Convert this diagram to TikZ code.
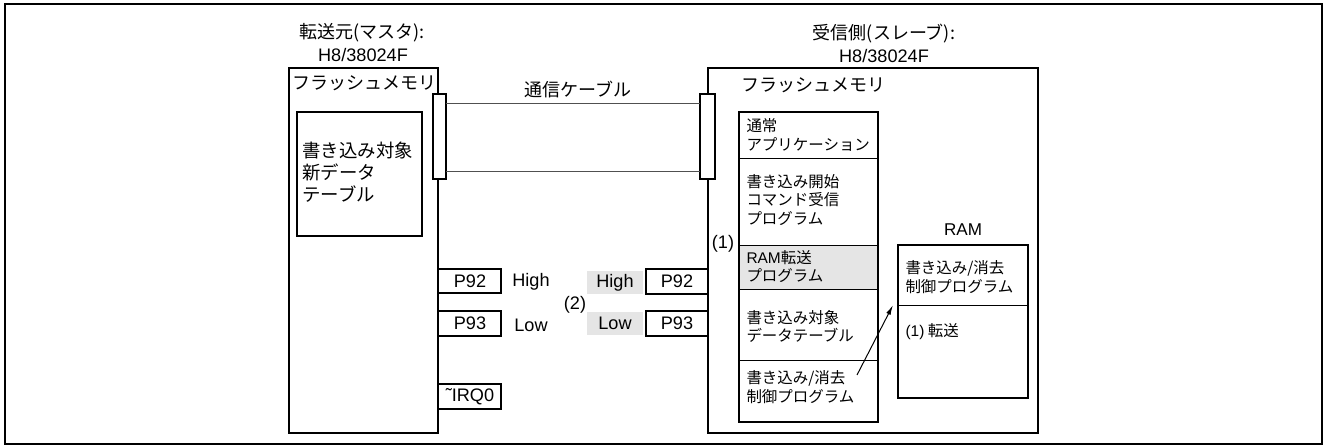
\documentclass[tikz,border=0pt]{standalone}
\usepackage{fontspec}
\setmainfont{Liberation Sans}
\newfontfamily\jp{Noto Sans CJK JP}
\usetikzlibrary{arrows.meta}

\tikzset{every picture/.style={line width=0.75pt}}
\tikzset{
  frm/.style={line width=1.8pt},
  cable/.style={line width=0.7pt,draw={rgb, 255:red, 80; green, 80; blue, 80 }},
  hilite/.style={fill={rgb, 255:red, 229; green, 229; blue, 229 }},
  bigtxt/.style={font=\fontsize{13.6}{16.5}\selectfont,inner sep=0pt},
  bigjp/.style={font=\fontsize{13.5}{16.5}\selectfont\jp,inner sep=0pt,align=left},
  tabjp/.style={font=\fontsize{13.8}{16.5}\selectfont\jp,inner sep=0pt,align=left},
  smjp/.style={font=\fontsize{11.6}{14}\selectfont\jp,inner sep=0pt,align=left}
}

\begin{document}
\begin{tikzpicture}[x=0.75pt,y=0.75pt,yscale=-1,xscale=1]
\useasboundingbox (0,0) rectangle (1324,446);

%Shape: Rectangle [id:frame] 
\draw  [frm] (5,4) rectangle (1322,444) ;

%Shape: Rectangle [id:master] 
\draw  [frm] (289,68) rectangle (438,433) ;
%Shape: Rectangle [id:newtable] 
\draw  [frm] (297,112) rectangle (422,236) ;
%Shape: Rectangle [id:mP92box] 
\draw  [frm] (438,269) rectangle (501,293) ;
%Shape: Rectangle [id:mP93box] 
\draw  [frm] (438,311) rectangle (501,336) ;
%Shape: Rectangle [id:mIRQbox] 
\draw  [frm] (438,384) rectangle (501,409) ;

%Shape: Rectangle [id:slave] 
\draw  [frm] (708,68) rectangle (1038,433) ;
%Shape: Rectangle [id:sP92box] 
\draw  [frm] (646,269) rectangle (708,294) ;
%Shape: Rectangle [id:sP93box] 
\draw  [frm] (646,311) rectangle (708,336) ;
%Shape: Rectangle [id:sHigh] 
\draw  [hilite,draw=none] (587,271) rectangle (643,294) ;
%Shape: Rectangle [id:sLow] 
\draw  [hilite,draw=none] (587,312) rectangle (643,335) ;

%Shape: Rectangle [id:ramrow] 
\draw  [hilite,draw=none] (739,245) rectangle (878,289) ;
%Straight Lines [id:rows] 
\draw    (739,158) -- (878,158) ;
\draw    (739,245) -- (878,245) ;
\draw    (739,289) -- (878,289) ;
\draw    (739,360) -- (878,360) ;
%Shape: Rectangle [id:column] 
\draw  [frm] (739,112) rectangle (878,422) ;

%Shape: Rectangle [id:ram] 
\draw  [frm] (898,245) rectangle (1028,398) ;
\draw    (898,305) -- (1028,305) ;

%Shape: Rectangle [id:mConn] 
\draw  [frm,fill=white] (433,94) rectangle (446,179) ;
%Shape: Rectangle [id:sConn] 
\draw  [frm,fill=white] (700,94) rectangle (715,179) ;

\coordinate (mcT) at (446,103);
\coordinate (mcB) at (446,171);
\coordinate (scT) at (700,103);
\coordinate (scB) at (700,171);
%Straight Lines [id:cable] 
\draw  [cable]  (mcT) -- (scT) ;
\draw  [cable]  (mcB) -- (scB) ;

% Text Node
\draw (362,33) node (mHdr) [bigjp] {転送元(マスタ):};
% Text Node
\draw (363,55) node (mChip) [bigtxt] {H8/38024F};
% Text Node
\draw (364.5,83) node (mFlash) [bigjp] {フラッシュメモリ};
% Text Node
\draw (302,172) node (mTable) [tabjp,anchor=west] {書き込み対象\\新データ\\テーブル};
% Text Node
\draw (578,90) node (cableLbl) [bigjp] {通信ケーブル};

% Text Node
\draw (470,281) node (mP92) [bigtxt] {P92};
% Text Node
\draw (470,323.5) node (mP93) [bigtxt] {P93};
% Text Node
\draw (470,396.5) node (mIRQ) [bigtxt] {˜IRQ0};
% Text Node
\draw (531,282) node (mHigh) [bigtxt] {High};
% Text Node
\draw (531,325) node (mLow) [bigtxt] {Low};
% Text Node
\draw (575,305) node (two) [bigtxt] {(2)};
% Text Node
\draw (615,282.5) node (sHighLbl) [bigtxt] {High};
% Text Node
\draw (615,323.5) node (sLowLbl) [bigtxt] {Low};
% Text Node
\draw (677,281.5) node (sP92) [bigtxt] {P92};
% Text Node
\draw (677,323.5) node (sP93) [bigtxt] {P93};

% Text Node
\draw (884,34) node (sHdr) [bigjp] {受信側(スレーブ):};
% Text Node
\draw (884,56) node (sChip) [bigtxt] {H8/38024F};
% Text Node
\draw (813.5,85) node (sFlash) [bigjp] {フラッシュメモリ};
% Text Node
\draw (723,244) node (one) [bigtxt] {(1)};

% Text Node
\draw (746,135) node (appl) [smjp,anchor=west] {通常\\アプリケーション};
% Text Node
\draw (746,200) node (cmdrx) [smjp,anchor=west] {書き込み開始\\コマンド受信\\プログラム};
% Text Node
\draw (746,266.5) node (ramxfer) [smjp,anchor=west] {{\fontspec{Liberation Sans}RAM}転送\\プログラム};
% Text Node
\draw (746,326.5) node (datatbl) [smjp,anchor=west] {書き込み対象\\データテーブル};
% Text Node
\draw (746,387) node (wrctl) [smjp,anchor=west] {書き込み/消去\\制御プログラム};

% Text Node
\draw (963,230) node (ramLbl) [bigtxt,font=\fontsize{12.8}{15}\selectfont] {RAM};
% Text Node
\draw (905,277) node (ramctl) [smjp,anchor=west] {書き込み/消去\\制御プログラム};
% Text Node
\draw (905,332) node (xfer) [smjp,anchor=west] {{\fontspec{Liberation Sans}(1)} 転送};

\coordinate (wrSrc) at (857,375);
\coordinate (ramDst) at (893,305);
%Straight Lines [id:copyarrow] 
\draw [-{Latex[length=7.5pt,width=3.5pt]}]  (wrSrc) -- (ramDst) ;

\end{tikzpicture}
\end{document}
